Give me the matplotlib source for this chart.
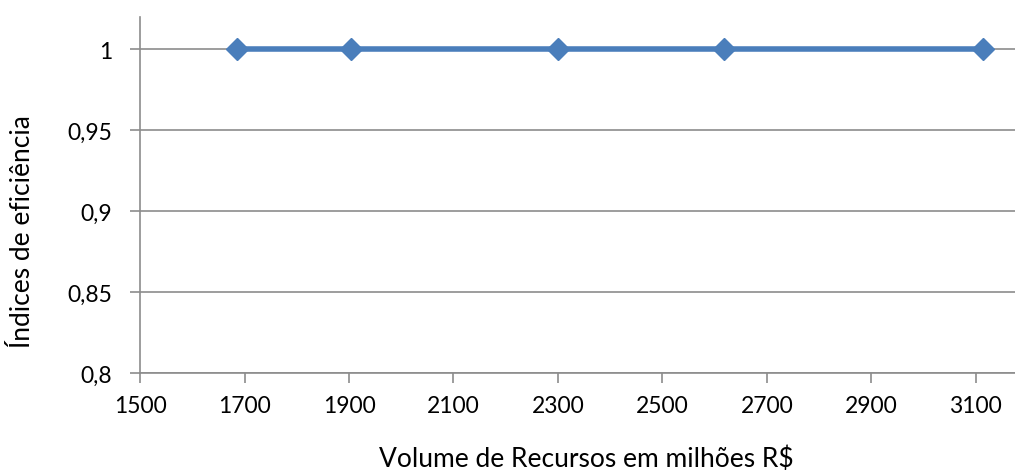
import matplotlib
matplotlib.use("Agg")
import matplotlib.pyplot as plt
from matplotlib.ticker import FuncFormatter

# values
recursos = [1686, 1904, 2300, 2618, 3113]
eficiencia = [1, 1, 1, 1, 1]
xticks = [1500, 1700, 1900, 2100, 2300, 2500, 2700, 2900, 3100]
yticks = [0.8, 0.85, 0.9, 0.95, 1.0]

plt.rcParams["font.family"] = ["Lato", "DejaVu Sans"]
gray = "#8c8c8c"

fig = plt.figure(figsize=(10.15, 4.77), dpi=100)
ax = fig.add_axes([0.138, 0.216, 0.862, 0.746])

ax.plot(recursos, eficiencia, color="#4a7ebb", lw=4, marker="D", ms=11,
        zorder=3, clip_on=False)

ax.set_xlim(1500, 3175)
ax.set_ylim(0.8, 1.02)
ax.set_xticks(xticks)
ax.set_yticks(yticks)
ax.yaxis.set_major_formatter(FuncFormatter(lambda v, p: f"{v:g}".replace(".", ",")))
ax.grid(axis="y", color=gray, lw=1.2)
ax.set_axisbelow(True)

for s in ["top", "right"]:
    ax.spines[s].set_visible(False)
for s in ["left", "bottom"]:
    ax.spines[s].set_color(gray)
    ax.spines[s].set_linewidth(1.2)
ax.tick_params(axis="both", colors=gray, width=1.2, length=7, labelsize=16.5,
               labelcolor="black")
ax.tick_params(axis="x", pad=9)
ax.tick_params(axis="y", pad=13)

ax.set_xlabel("Volume de Recursos em milhões R$", fontsize=19)
ax.set_ylabel("Índices de eficiência", fontsize=19)
ax.xaxis.set_label_coords(0.51, -0.205)
ax.yaxis.set_label_coords(-0.12, 0.40)

fig.savefig("out.png", dpi=100)
